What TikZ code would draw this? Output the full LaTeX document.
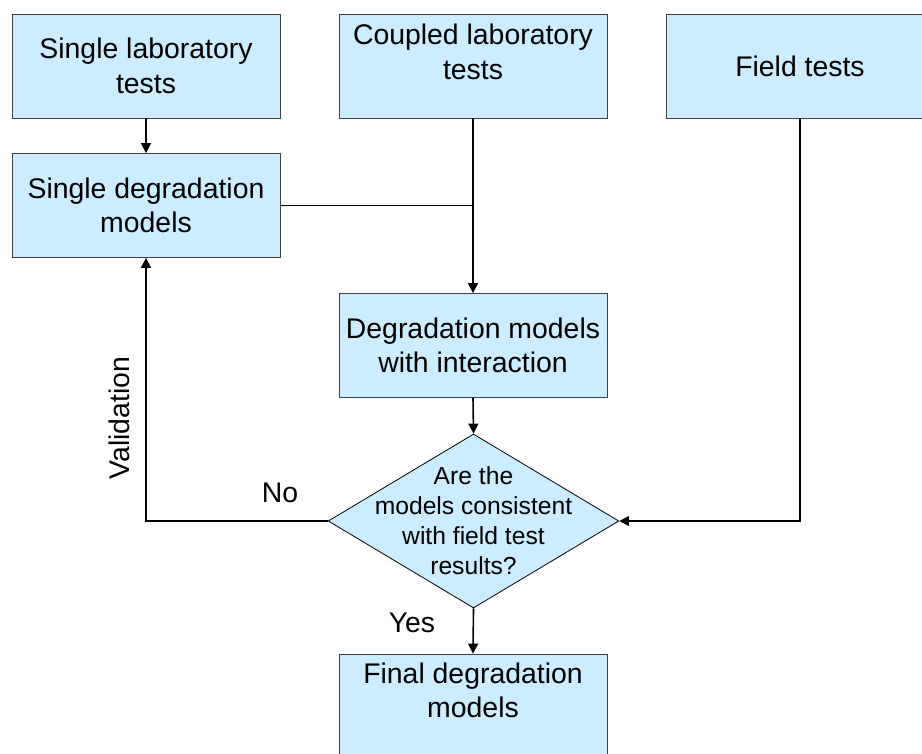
\documentclass[tikz,border=0pt]{standalone}
\usepackage{fontspec}
\setmainfont{Liberation Sans}
\usetikzlibrary{arrows.meta,positioning,shapes.geometric}
\definecolor{boxblue}{RGB}{204,236,255}
\begin{document}
\begin{tikzpicture}[x=0.75pt,y=-0.75pt,
	box/.style={draw=black!75,line width=0.6pt,fill=boxblue,minimum width=201pt,minimum height=78pt,align=center,font=\fontsize{21.3}{26}\selectfont},
	boxtext/.style={inner sep=0pt,align=center,font=\fontsize{21.3}{26}\selectfont},
	decision/.style={draw,line width=0.6pt,fill=boxblue,diamond,aspect=1.672,minimum width=218pt,minimum height=130.5pt,inner sep=0pt},
	decisiontext/.style={inner sep=0pt,align=center,font=\fontsize{18.5}{22.5}\selectfont},
	link/.style={line width=1.2pt,-{Triangle[length=7.5pt,width=7.5pt]}},
	lbl/.style={inner sep=0pt,font=\fontsize{21.3}{26}\selectfont}]
	\clip (0,0) rectangle (922,754);
	
	\node[box] (single) at (146,66) {Single laboratory\\tests};
	\node[box] (coupled) at (473,66) {};
	\node[boxtext,below=7.9pt of coupled.north] (coupledtext) {Coupled laboratory\\tests};
	\node[box] (field) at (800,66) {Field tests};
	\node[box] (sdm) at (146,205.5) {Single degradation\\models};
	\node[box] (dmi) at (473,345.5) {Degradation models\\with interaction};
	\node[decision] (check) at (473.5,521) {};
	\node[decisiontext] (checktext) at (check) {Are the\\models consistent\\with field test\\results?};
	\node[box,minimum height=78.75pt] (final) at (473,706.5) {};
	\node[boxtext,below=6.5pt of final.north] (finaltext) {Final degradation\\models};
	
	\draw[link] (single.south) -- (sdm.north);
	\draw[link] (coupled.south) -- (dmi.north);
	\draw[line width=1.2pt] (sdm.east) -- (sdm.east -| coupled.south);
	\draw[link] (dmi.south) -- (check.north);
	\draw[link] (field.south) |- (check.east);
	\draw[link] (check.west) -| (sdm.south);
	\draw[link] (check.south) -- (final.north);
	
	\node[lbl,rotate=90] (valid) at (119,418) {Validation};
	\node[lbl,anchor=base] (no) at (280,502) {No};
	\node[lbl,anchor=base] (yes) at (412,632) {Yes};
\end{tikzpicture}
\end{document}
